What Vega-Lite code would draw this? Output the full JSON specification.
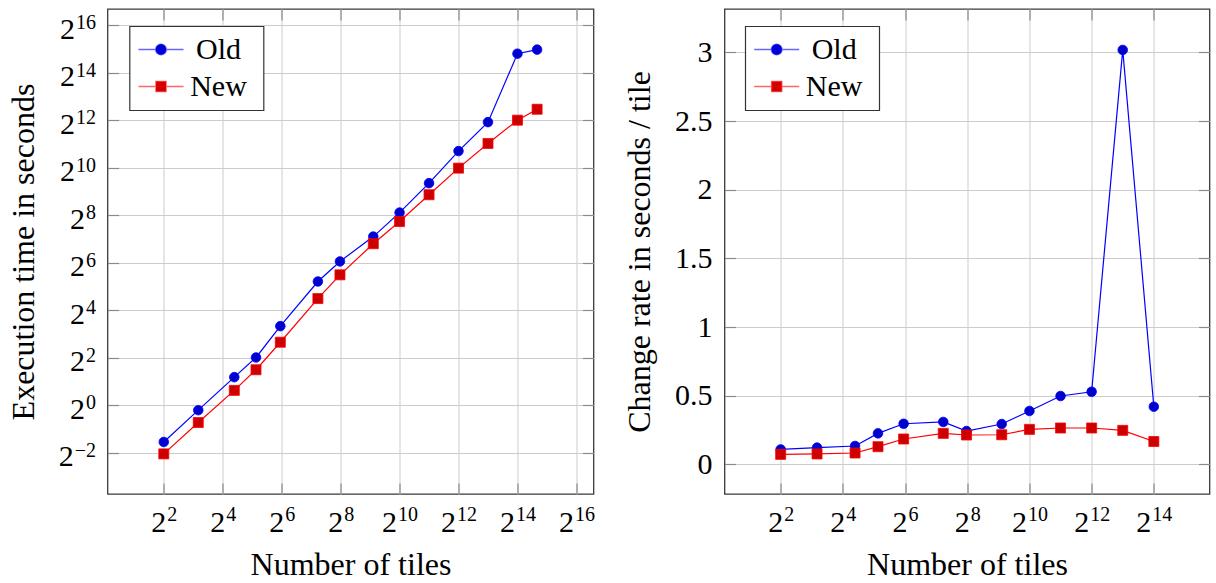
{
  "$schema": "https://vega.github.io/schema/vega-lite/v6.json",
  "padding": {"left": 6.5, "top": 7, "right": 0, "bottom": 0},
  "datasets": {
    "left": [
      {"tiles": 4, "time": 0.344, "series": "Old"},
      {"tiles": 9, "time": 0.87, "series": "Old"},
      {"tiles": 21, "time": 2.28, "series": "Old"},
      {"tiles": 35, "time": 4.05, "series": "Old"},
      {"tiles": 62, "time": 10.1, "series": "Old"},
      {"tiles": 150, "time": 37.2, "series": "Old"},
      {"tiles": 252, "time": 66.8, "series": "Old"},
      {"tiles": 552, "time": 138, "series": "Old"},
      {"tiles": 1024, "time": 278, "series": "Old"},
      {"tiles": 2048, "time": 656, "series": "Old"},
      {"tiles": 4096, "time": 1673, "series": "Old"},
      {"tiles": 8192, "time": 3895, "series": "Old"},
      {"tiles": 16384, "time": 28700, "series": "Old"},
      {"tiles": 26000, "time": 32300, "series": "Old"},
      {"tiles": 4, "time": 0.243, "series": "New"},
      {"tiles": 9, "time": 0.607, "series": "New"},
      {"tiles": 21, "time": 1.55, "series": "New"},
      {"tiles": 35, "time": 2.83, "series": "New"},
      {"tiles": 62, "time": 6.32, "series": "New"},
      {"tiles": 150, "time": 22.6, "series": "New"},
      {"tiles": 252, "time": 45.2, "series": "New"},
      {"tiles": 552, "time": 112, "series": "New"},
      {"tiles": 1024, "time": 214, "series": "New"},
      {"tiles": 2048, "time": 468, "series": "New"},
      {"tiles": 4096, "time": 1017, "series": "New"},
      {"tiles": 8192, "time": 2090, "series": "New"},
      {"tiles": 16384, "time": 4120, "series": "New"},
      {"tiles": 26000, "time": 5670, "series": "New"}
    ],
    "right": [
      {"tiles": 4, "rate": 0.109, "series": "Old"},
      {"tiles": 9, "rate": 0.122, "series": "Old"},
      {"tiles": 21, "rate": 0.134, "series": "Old"},
      {"tiles": 35, "rate": 0.226, "series": "Old"},
      {"tiles": 62, "rate": 0.296, "series": "Old"},
      {"tiles": 150, "rate": 0.309, "series": "Old"},
      {"tiles": 252, "rate": 0.243, "series": "Old"},
      {"tiles": 552, "rate": 0.294, "series": "Old"},
      {"tiles": 1024, "rate": 0.389, "series": "Old"},
      {"tiles": 2048, "rate": 0.498, "series": "Old"},
      {"tiles": 4096, "rate": 0.529, "series": "Old"},
      {"tiles": 8192, "rate": 3.018, "series": "Old"},
      {"tiles": 16384, "rate": 0.42, "series": "Old"},
      {"tiles": 4, "rate": 0.073, "series": "New"},
      {"tiles": 9, "rate": 0.076, "series": "New"},
      {"tiles": 21, "rate": 0.083, "series": "New"},
      {"tiles": 35, "rate": 0.129, "series": "New"},
      {"tiles": 62, "rate": 0.185, "series": "New"},
      {"tiles": 150, "rate": 0.226, "series": "New"},
      {"tiles": 252, "rate": 0.214, "series": "New"},
      {"tiles": 552, "rate": 0.216, "series": "New"},
      {"tiles": 1024, "rate": 0.255, "series": "New"},
      {"tiles": 2048, "rate": 0.265, "series": "New"},
      {"tiles": 4096, "rate": 0.265, "series": "New"},
      {"tiles": 8192, "rate": 0.248, "series": "New"},
      {"tiles": 16384, "rate": 0.167, "series": "New"}
    ]
  },
  "spacing": 131,
  "bounds": "flush",
  "resolve": {"scale": {"color": "independent"}, "legend": {"color": "independent"}},
  "hconcat": [
    {
      "width": 486,
      "height": 485,
      "data": {"name": "left"},
      "resolve": {"axis": {"x": "independent", "y": "independent"}},
      "layer": [
        {
          "mark": {"type": "line", "strokeWidth": 1.2},
          "encoding": {
            "x": {"field": "tiles", "type": "quantitative",
              "scale": {"type": "log", "base": 2, "domain": [1.0644, 97965], "nice": false, "zero": false},
              "axis": {"orient": "bottom", "title": "Number of tiles", "values": [4, 16, 64, 256, 1024, 4096, 16384, 65536],
                "labelExpr": "'2'", "labelAlign": "right", "labelBaseline": "alphabetic",
                "labelPadding": 48.5, "titlePadding": 11.5,
                "labelOffset": {"condition": {"test": "datum.value >= 1024", "value": -3}, "value": 2}}},
            "y": {"field": "time", "type": "quantitative",
              "scale": {"type": "log", "base": 2, "domain": [0.07536, 105730], "nice": false, "zero": false},
              "axis": {"orient": "left", "title": "Execution time in seconds", "values": [0.25, 1, 4, 16, 64, 256, 1024, 4096, 16384, 65536],
                "labelExpr": "'2'", "labelAlign": "right", "labelBaseline": "alphabetic",
                "labelPadding": {"condition": [{"test": "datum.value >= 1024", "value": 44}, {"test": "datum.value < 1", "value": 45.3}], "value": 34},
                "labelOffset": 12.7, "titlePadding": 18}},
            "color": {"field": "series", "type": "nominal", "sort": ["Old", "New"],
              "scale": {"domain": ["Old", "New"], "range": ["#0000ff", "#ff0000"]},
              "legend": {"title": " ", "titleOrient": "right", "titleFontSize": 1, "titlePadding": 8,
                "orient": "none", "legendX": 22, "legendY": 17.2,
                "encode": {
                  "symbols": {
                    "update": {
                      "shape": {"signal": "datum.value === 'Old' ? 'M-2.25,0L2.25,0M0.52,0A0.52,0.52,0,1,1,-0.52,0A0.52,0.52,0,1,1,0.52,0Z' : 'M-2.25,0L2.25,0M-0.5,-0.5L0.5,-0.5L0.5,0.5L-0.5,0.5Z'"},
                      "fill": {"signal": "datum.value === 'Old' ? '#0000cc' : '#cc0000'"},
                      "stroke": {"signal": "datum.value === 'Old' ? '#0000ff' : '#ff0000'"},
                      "strokeWidth": {"value": 1.6},
                      "strokeOpacity": {"value": 0.6},
                      "opacity": {"value": 1},
                      "size": {"value": 400}
                    }
                  }
                }}}
          }
        },
        {
          "transform": [{"filter": "datum.series === 'Old'"}],
          "mark": {"type": "point", "shape": "circle", "filled": true, "fill": "#0000cc", "stroke": "#0000ff", "strokeWidth": 0.8, "size": 92, "opacity": 1},
          "encoding": {
            "x": {"field": "tiles", "type": "quantitative",
              "axis": {"orient": "bottom", "title": null, "values": [4, 16, 64, 256, 1024, 4096, 16384, 65536],
                "labelExpr": "format(round(log(datum.value)/LN2), 'd')", "labelAlign": "left", "labelBaseline": "alphabetic",
                "labelFontSize": 20, "labelPadding": 26.5, "ticks": false, "grid": false,
                "labelOffset": {"condition": {"test": "datum.value >= 1024", "value": -2}, "value": 3}}},
            "y": {"field": "time", "type": "quantitative",
              "axis": {"orient": "left", "title": null, "values": [0.25, 1, 4, 16, 64, 256, 1024, 4096, 16384, 65536],
                "labelExpr": "format(round(log(datum.value)/LN2), 'd')", "labelAlign": "right", "labelBaseline": "alphabetic",
                "labelFontSize": 20, "labelPadding": 12, "ticks": false, "grid": false, "labelOffset": 3.3}}
          }
        },
        {
          "transform": [{"filter": "datum.series === 'New'"}],
          "mark": {"type": "point", "shape": "square", "filled": true, "fill": "#cc0000", "stroke": "#ff0000", "strokeWidth": 0.8, "size": 100, "opacity": 1},
          "encoding": {
            "x": {"field": "tiles", "type": "quantitative",
              "axis": {"orient": "top", "labels": false, "grid": false, "title": null, "values": [4, 16, 64, 256, 1024, 4096, 16384, 65536]}},
            "y": {"field": "time", "type": "quantitative",
              "axis": {"orient": "right", "labels": false, "grid": false, "title": null, "values": [0.25, 1, 4, 16, 64, 256, 1024, 4096, 16384, 65536]}}
          }
        }
      ]
    },
    {
      "width": 485,
      "height": 485,
      "data": {"name": "right"},
      "resolve": {"axis": {"x": "independent", "y": "independent"}},
      "layer": [
        {
          "mark": {"type": "line", "strokeWidth": 1.2},
          "encoding": {
            "x": {"field": "tiles", "type": "quantitative",
              "scale": {"type": "log", "base": 2, "domain": [1.1439, 56660], "nice": false, "zero": false},
              "axis": {"orient": "bottom", "title": "Number of tiles", "values": [4, 16, 64, 256, 1024, 4096, 16384],
                "labelExpr": "'2'", "labelAlign": "right", "labelBaseline": "alphabetic",
                "labelPadding": 48.5, "titlePadding": 11.5,
                "labelOffset": {"condition": {"test": "datum.value >= 1024", "value": -3}, "value": 2}}},
            "y": {"field": "rate", "type": "quantitative",
              "scale": {"domain": [-0.2155, 3.316], "nice": false, "zero": false},
              "axis": {"orient": "left", "title": "Change rate in seconds / tile", "values": [0, 0.5, 1, 1.5, 2, 2.5, 3], "format": "~g",
                "labelPadding": 23.6, "titlePadding": 18}},
            "color": {"field": "series", "type": "nominal", "sort": ["Old", "New"],
              "scale": {"domain": ["Old", "New"], "range": ["#0000ff", "#ff0000"]},
              "legend": {"title": " ", "titleOrient": "right", "titleFontSize": 1, "titlePadding": 8,
                "orient": "none", "legendX": 20.7, "legendY": 17.2,
                "encode": {
                  "symbols": {
                    "update": {
                      "shape": {"signal": "datum.value === 'Old' ? 'M-2.25,0L2.25,0M0.52,0A0.52,0.52,0,1,1,-0.52,0A0.52,0.52,0,1,1,0.52,0Z' : 'M-2.25,0L2.25,0M-0.5,-0.5L0.5,-0.5L0.5,0.5L-0.5,0.5Z'"},
                      "fill": {"signal": "datum.value === 'Old' ? '#0000cc' : '#cc0000'"},
                      "stroke": {"signal": "datum.value === 'Old' ? '#0000ff' : '#ff0000'"},
                      "strokeWidth": {"value": 1.6},
                      "strokeOpacity": {"value": 0.6},
                      "opacity": {"value": 1},
                      "size": {"value": 400}
                    }
                  }
                }}}
          }
        },
        {
          "transform": [{"filter": "datum.series === 'Old'"}],
          "mark": {"type": "point", "shape": "circle", "filled": true, "fill": "#0000cc", "stroke": "#0000ff", "strokeWidth": 0.8, "size": 92, "opacity": 1},
          "encoding": {
            "x": {"field": "tiles", "type": "quantitative",
              "axis": {"orient": "bottom", "title": null, "values": [4, 16, 64, 256, 1024, 4096, 16384],
                "labelExpr": "format(round(log(datum.value)/LN2), 'd')", "labelAlign": "left", "labelBaseline": "alphabetic",
                "labelFontSize": 20, "labelPadding": 26.5, "ticks": false, "grid": false,
                "labelOffset": {"condition": {"test": "datum.value >= 1024", "value": -2}, "value": 3}}},
            "y": {"field": "rate", "type": "quantitative", "axis": null}
          }
        },
        {
          "transform": [{"filter": "datum.series === 'New'"}],
          "mark": {"type": "point", "shape": "square", "filled": true, "fill": "#cc0000", "stroke": "#ff0000", "strokeWidth": 0.8, "size": 100, "opacity": 1},
          "encoding": {
            "x": {"field": "tiles", "type": "quantitative",
              "axis": {"orient": "top", "labels": false, "grid": false, "title": null, "values": [4, 16, 64, 256, 1024, 4096, 16384]}},
            "y": {"field": "rate", "type": "quantitative",
              "axis": {"orient": "right", "labels": false, "grid": false, "title": null, "values": [0, 0.5, 1, 1.5, 2, 2.5, 3]}}
          }
        }
      ]
    }
  ],
  "config": {
    "font": "Liberation Serif",
    "view": {"stroke": "#3a3a3a", "strokeWidth": 1.3},
    "axis": {
      "labelFont": "Liberation Serif", "titleFont": "Liberation Serif",
      "labelFontSize": 30, "titleFontSize": 32, "titleFontWeight": "normal",
      "labelColor": "#000000", "titleColor": "#000000",
      "gridColor": "#cccccc", "gridWidth": 1, "grid": true,
      "tickColor": "#8a8a8a", "tickWidth": 1.2, "tickSize": -11,
      "domain": false, "labelFlush": false, "labelOverlap": false
    },
    "legend": {
      "labelFont": "Liberation Serif", "labelFontSize": 30, "labelColor": "#000000",
      "labelAlign": "center", "labelOffset": 42.5, "symbolOffset": 8.2,
      "strokeColor": "#333333", "fillColor": "#ffffff", "cornerRadius": 0, "strokeWidth": 1.2,
      "padding": 8.3, "rowPadding": 7, "symbolSize": 400, "symbolStrokeWidth": 1.6
    }
  }
}
